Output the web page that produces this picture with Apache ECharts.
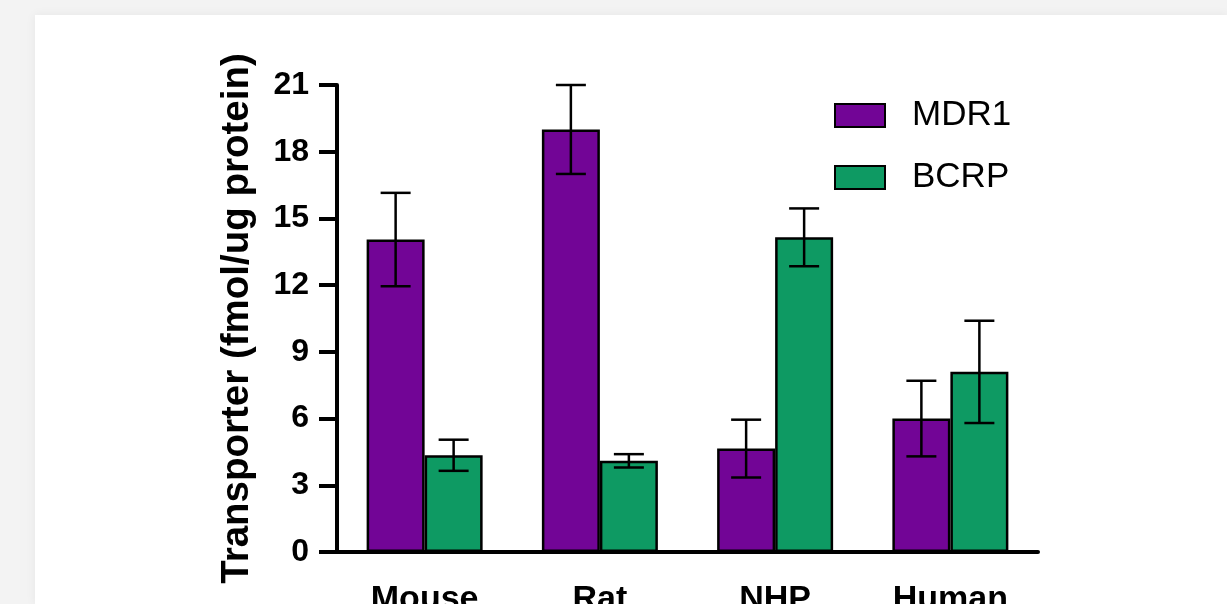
<!DOCTYPE html>
<html>
<head>
<meta charset="utf-8">
<script src="https://cdn.jsdelivr.net/npm/echarts@6/dist/echarts.min.js"></script>
<style>
html,body{margin:0;padding:0;width:1227px;height:604px;overflow:hidden;background:#f3f3f3;}
#card{position:absolute;left:35px;top:15px;width:1192px;height:589px;background:#fff;box-shadow:0 0 10px rgba(0,0,0,0.06);}
#chart{position:absolute;left:0;top:0;width:1227px;height:604px;}
</style>
</head>
<body>
<div id="card"></div>
<div id="chart"></div>
<script>
const categories = ['Mouse', 'Rat', 'NHP', 'Human'];
const mdr1Mean = [14.05, 19.0, 4.65, 6.0];
const mdr1Sd   = [2.1, 2.0, 1.3, 1.7];
const bcrpMean = [4.35, 4.1, 14.15, 8.1];
const bcrpSd   = [0.7, 0.3, 1.3, 2.3];
const yTicks = [0, 3, 6, 9, 12, 15, 18, 21];

const FONT = 'Arial, "Liberation Sans", sans-serif';
const PURPLE = '#720596';
const GREEN = '#0e9a63';
const BAR_W = 58;

function errData(mean, sd) {
  return mean.map((m, i) => [i, m - sd[i], m + sd[i]]);
}
function errSeries(name, mean, sd, offset) {
  return {
    type: 'custom',
    name: name + ' SD',
    z: 10,
    silent: true,
    data: errData(mean, sd),
    renderItem: function (params, api) {
      const lo = api.coord([api.value(0), api.value(1)]);
      const hi = api.coord([api.value(0), api.value(2)]);
      const x = lo[0] + offset;
      const hw = 15;
      const st = { stroke: '#000', lineWidth: 2.5 };
      return {
        type: 'group',
        children: [
          { type: 'line', shape: { x1: x, y1: lo[1], x2: x, y2: hi[1] }, style: st },
          { type: 'line', shape: { x1: x - hw, y1: hi[1], x2: x + hw, y2: hi[1] }, style: st },
          { type: 'line', shape: { x1: x - hw, y1: lo[1], x2: x + hw, y2: lo[1] }, style: st }
        ]
      };
    },
    encode: { x: 0, y: [1, 2] }
  };
}

const chart = echarts.init(document.getElementById('chart'), null, { renderer: 'canvas' });
chart.setOption({
  backgroundColor: 'transparent',
  animation: false,
  grid: { left: 337, top: 85, width: 701, height: 467, containLabel: false, outerBoundsMode: 'none' },
  legend: {
    orient: 'vertical',
    left: 829,
    top: 93,
    itemWidth: 50,
    itemHeight: 23,
    itemGap: 27,
    icon: 'rect',
    data: ['MDR1', 'BCRP'],
    itemStyle: { borderColor: '#000', borderWidth: 2 },
    textStyle: { fontFamily: FONT, fontSize: 35, color: '#000', lineHeight: 35, padding: [0, 0, 0, 22] }
  },
  xAxis: {
    type: 'category',
    data: categories,
    axisLine: { lineStyle: { color: '#000', width: 4 } },
    axisTick: { alignWithLabel: true, length: 20, lineStyle: { color: '#000', width: 4 } },
    axisLabel: { fontFamily: FONT, fontSize: 34, fontWeight: 'bold', color: '#000', margin: 31 }
  },
  yAxis: {
    type: 'value',
    min: 0,
    max: 21,
    interval: 3,
    name: 'Transporter (fmol/ug protein)',
    nameLocation: 'middle',
    nameGap: 80,
    nameTextStyle: { fontFamily: FONT, fontSize: 38.5, fontWeight: 'bold', color: '#000' },
    splitLine: { show: false },
    axisLine: { show: true, lineStyle: { color: '#000', width: 4 } },
    axisTick: { show: true, length: 18, lineStyle: { color: '#000', width: 4 } },
    axisLabel: {
      fontFamily: FONT, fontSize: 32, fontWeight: 'bold', color: '#000', margin: 28,
      formatter: function (v) { return yTicks.indexOf(v) >= 0 ? String(v) : ''; }
    }
  },
  series: [
    {
      name: 'MDR1', type: 'bar', data: mdr1Mean, barWidth: BAR_W, barGap: '0%',
      itemStyle: { color: PURPLE, borderColor: '#000', borderWidth: 2.5 }
    },
    {
      name: 'BCRP', type: 'bar', data: bcrpMean, barWidth: BAR_W, barGap: '0%',
      itemStyle: { color: GREEN, borderColor: '#000', borderWidth: 2.5 }
    },
    errSeries('MDR1', mdr1Mean, mdr1Sd, -BAR_W / 2),
    errSeries('BCRP', bcrpMean, bcrpSd, BAR_W / 2)
  ]
});
</script>
</body>
</html>
